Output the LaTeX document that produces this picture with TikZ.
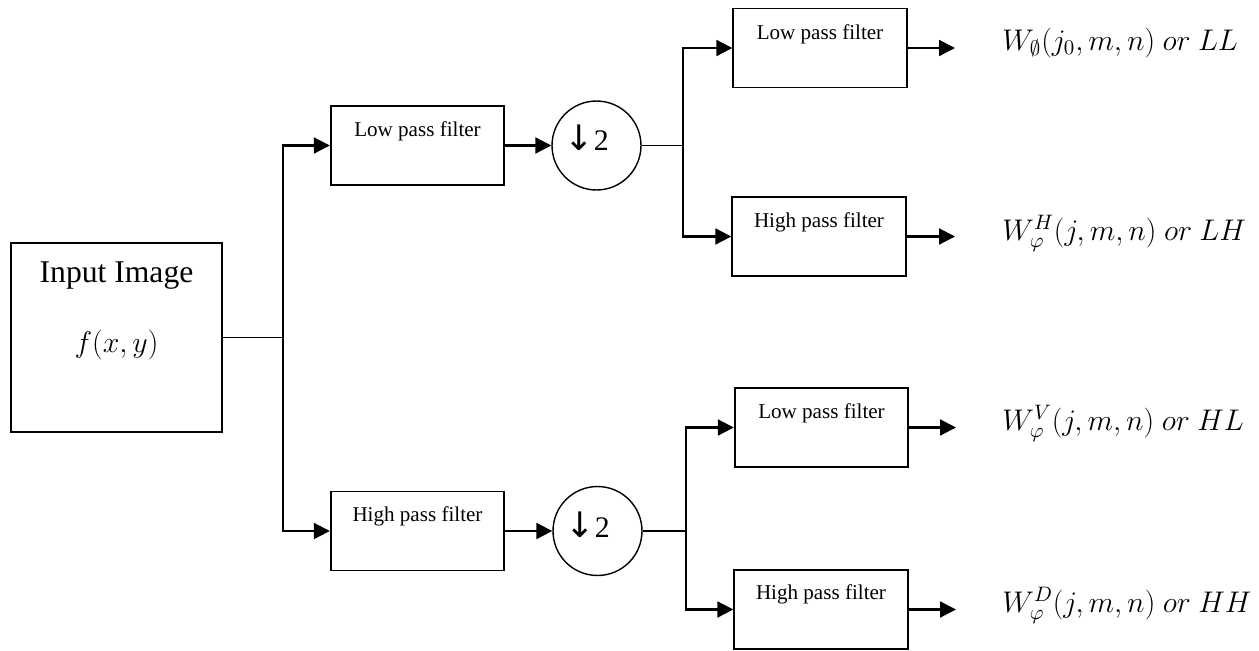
\RequirePackage{fix-cm}
\documentclass[tikz,border=0pt]{standalone}
\usepackage[no-math]{fontspec}
\setmainfont{Liberation Serif}
\newfontfamily\arrowfont{DejaVu Sans}
\usetikzlibrary{arrows.meta}

\begin{document}
\begin{tikzpicture}[x=0.02cm, y=-0.02cm,
  box/.style={draw, line width=1.1pt, minimum width=3.47cm, minimum height=1.58cm, inner sep=0pt},
  boxtext/.style={anchor=base, inner sep=0pt, font=\fontsize{12}{14}\selectfont},
  down/.style={draw, circle, line width=0.8pt, minimum size=1.78cm, inner sep=0pt},
  downtext/.style={anchor=base, inner sep=0pt, font=\fontsize{17}{20}\selectfont},
  wire/.style={line width=1.2pt},
  thinwire/.style={line width=0.7pt},
  arr/.style={wire, -{Triangle[length=9pt,width=9pt]}},
  outlabel/.style={anchor=base west, inner sep=0pt, font=\fontsize{17}{20}\selectfont}
]
\useasboundingbox (0,0) rectangle (1259,650);

% input block
\node[draw, line width=1.1pt, minimum width=4.22cm, minimum height=3.78cm, inner sep=0pt] (in) at (116.5,337.5) {};
\node[anchor=base, inner sep=0pt, font=\fontsize{18}{21}\selectfont] (intitle) at (116.5,282) {Input Image};
\node[anchor=base, inner sep=0pt, font=\fontsize{17}{20}\selectfont] (infun) at (116.5,352) {$f(x,y)$};

% first stage filters
\node[box] (lp1) at (417.5,145.5) {};
\node[boxtext] (lp1t) at (417.5,136) {Low pass filter};
\node[box] (hp1) at (417.5,531) {};
\node[boxtext] (hp1t) at (417.5,521) {High pass filter};

% downsamplers
\node[down] (c1) at (596.5,145.5) {};
\node[downtext] (c1t) at (586.5,150) {{\arrowfont\fontsize{20}{22}\selectfont ↓}2};
\node[down] (c2) at (597.5,531) {};
\node[downtext] (c2t) at (587.5,537) {{\arrowfont\fontsize{20}{22}\selectfont ↓}2};

% second stage filters
\node[box] (lp2) at (820,48) {};
\node[boxtext] (lp2t) at (820,39) {Low pass filter};
\node[box] (hp2) at (819,236.5) {};
\node[boxtext] (hp2t) at (819,227) {High pass filter};
\node[box] (lp3) at (821.5,427.5) {};
\node[boxtext] (lp3t) at (821.5,418) {Low pass filter};
\node[box] (hp3) at (821,609.5) {};
\node[boxtext] (hp3t) at (821,599) {High pass filter};

% outputs
\node[outlabel] (ll) at (1002,50) {$W_{\emptyset}(j_0,m,n)\ or\ LL$};
\node[outlabel] (lh) at (1002,240) {$W_{\varphi}^{H}(j,m,n)\ or\ LH$};
\node[outlabel] (hl) at (1002,430) {$W_{\varphi}^{V}(j,m,n)\ or\ HL$};
\node[outlabel] (hh) at (1002,612) {$W_{\varphi}^{D}(j,m,n)\ or\ HH$};

% junctions and arrow ends
\coordinate (j1) at (283,337.5);
\coordinate (j2) at (683,145.5);
\coordinate (j3) at (686,531);
\coordinate (o1) at (955,48);
\coordinate (o2) at (955,236.5);
\coordinate (o3) at (956,427.5);
\coordinate (o4) at (956,609.5);

% wiring
\draw[thinwire] (in.east |- j1) -- (j1);
\draw[arr] (j1) |- (lp1.west);
\draw[arr] (j1) |- (hp1.west);
\draw[arr] (lp1.east) -- (c1.west);
\draw[arr] (hp1.east) -- (c2.west);
\draw[thinwire] (c1.east) -- (j2);
\draw[thinwire] (c2.east) -- (j3);
\draw[arr] (j2) |- (lp2.west);
\draw[arr] (j2) |- (hp2.west);
\draw[arr] (j3) |- (lp3.west);
\draw[arr] (j3) |- (hp3.west);
\draw[arr] (lp2.east) -- (o1);
\draw[arr] (hp2.east) -- (o2);
\draw[arr] (lp3.east) -- (o3);
\draw[arr] (hp3.east) -- (o4);
\end{tikzpicture}
\end{document}
